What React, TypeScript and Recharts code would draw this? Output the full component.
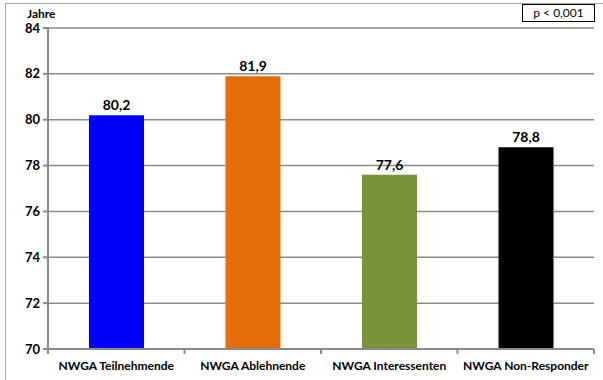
import React from 'react';
import { BarChart, Bar, XAxis, YAxis, CartesianGrid, Cell, LabelList } from 'recharts';

const categories = ['NWGA Teilnehmende', 'NWGA Ablehnende', 'NWGA Interessenten', 'NWGA Non-Responder'];
const values = [80.2, 81.9, 77.6, 78.8];
const colors = ['#0000FF', '#E46C0A', '#77933C', '#000000'];
const yTicks = [70, 72, 74, 76, 78, 80, 82, 84];

const data = categories.map((c, i) => ({ name: c, value: values[i] }));

const FONT = 'Lato, "Open Sans", sans-serif';
const AXIS = '#8a8a8a';
const TICK_MARGIN = 12;

const CatTick = (props: any) => {
  const { x, y, payload, index, visibleTicksCount } = props;
  const half = payload?.offset ?? 0;
  const axisY = y - TICK_MARGIN;
  const isLast = index === (visibleTicksCount ?? categories.length) - 1;
  return (
    <g>
      <line x1={x - half} x2={x - half} y1={axisY} y2={axisY + 5} stroke={AXIS} strokeWidth={2} />
      {isLast && <line x1={x + half} x2={x + half} y1={axisY} y2={axisY + 5} stroke={AXIS} strokeWidth={2} />}
      <text x={x} y={y} dy="0.71em" textAnchor="middle" fontSize={12} fontWeight={700} fill="#000" fontFamily={FONT}>
        {payload.value}
      </text>
    </g>
  );
};

export default function App() {
  return (
    <div style={{ position: 'absolute', left: 0, top: 0, width: 603, height: 380, background: '#fff', overflow: 'hidden', fontFamily: FONT }}>
      <div style={{ position: 'absolute', left: 5, top: 3, width: 620, height: 400, borderLeft: '1px solid #a6a6a6', borderTop: '1px solid #a6a6a6' }} />
      <div style={{ position: 'absolute', left: 27, top: 6, fontSize: 12, fontWeight: 700, color: '#000' }}>Jahre</div>
      <div style={{ position: 'absolute', left: 522, top: 4, width: 71, height: 16, border: '1.5px solid #000', fontSize: 12, lineHeight: '16px', textAlign: 'center', color: '#000' }}>p &lt; 0,001</div>
      <div style={{ position: 'absolute', left: 0, top: 0 }}>
        <BarChart width={603} height={380} data={data} margin={{ top: 28, right: 9, left: 0, bottom: 0 }} barSize={55}>
          <CartesianGrid vertical={false} stroke={AXIS} strokeWidth={1.5} />
          <XAxis
            dataKey="name"
            height={31}
            tickLine={false}
            tickSize={0}
            tickMargin={TICK_MARGIN}
            axisLine={{ stroke: AXIS, strokeWidth: 2 }}
            tick={<CatTick />}
            interval={0}
          />
          <YAxis
            domain={[70, 84]}
            ticks={yTicks}
            width={48}
            interval={0}
            axisLine={{ stroke: AXIS, strokeWidth: 2 }}
            tickLine={{ stroke: AXIS, strokeWidth: 2 }}
            tickSize={5}
            tickMargin={3}
            tick={{ fontSize: 13, fontWeight: 700, fill: '#000', fontFamily: FONT }}
          />
          <Bar dataKey="value" isAnimationActive={false}>
            {data.map((d, i) => (
              <Cell key={d.name} fill={colors[i]} />
            ))}
            <LabelList
              dataKey="value"
              position="top"
              offset={5}
              formatter={(v: number) => v.toFixed(1).replace('.', ',')}
              style={{ fontSize: 14, fontWeight: 700, fill: '#000', fontFamily: FONT }}
            />
          </Bar>
        </BarChart>
      </div>
    </div>
  );
}
